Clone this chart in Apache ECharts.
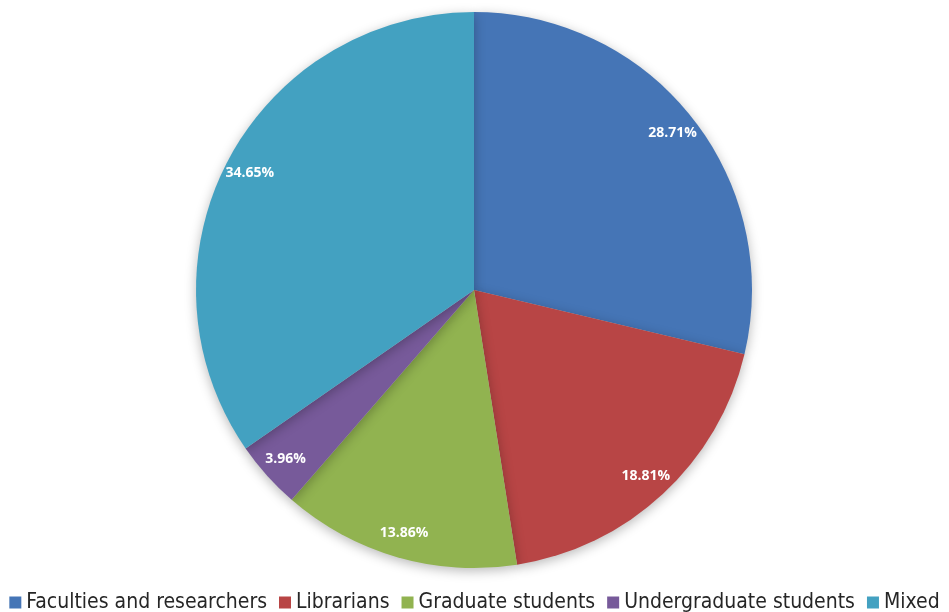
<!DOCTYPE html>
<html>
<head>
<meta charset="utf-8">
<script src="https://cdn.jsdelivr.net/npm/echarts@6/dist/echarts.min.js"></script>
<style>
  html, body { margin: 0; padding: 0; background: #fff; }
  #chart { width: 949px; height: 612px; }
</style>
</head>
<body>
<div id="chart"></div>
<script>
// Share of respondents by group (percent)
const categories = ['Faculties and researchers', 'Librarians', 'Graduate students', 'Undergraduate students', 'Mixed'];
const shares = [28.71, 18.81, 13.86, 3.96, 34.65];
const colors = ['#4575B6', '#B84545', '#91B350', '#775A9A', '#43A1C1'];

const center = [474, 290];
const outerRadius = 278;

const slices = categories.map((name, i) => ({ name: name, value: shares[i] }));

const chart = echarts.init(document.getElementById('chart'), null, { renderer: 'canvas' });
chart.setOption({
  animation: false,
  color: colors,
  legend: {
    top: 587,
    left: 'center',
    icon: 'rect',
    itemWidth: 12,
    itemHeight: 12,
    itemGap: 12,
    textStyle: {
      fontFamily: '"Liberation Sans Narrow", "DejaVu Sans Condensed", sans-serif',
      fontSize: 21,
      color: '#262626'
    },
    data: categories
  },
  series: [
    {
      // the pie itself
      type: 'pie',
      center: center,
      radius: [0, outerRadius],
      startAngle: 90,
      clockwise: true,
      label: { show: false },
      labelLine: { show: false },
      itemStyle: {
        borderWidth: 0,
        shadowBlur: 12,
        shadowColor: 'rgba(0,0,0,0.28)',
        shadowOffsetY: 3
      },
      emphasis: { disabled: true },
      data: slices
    },
    {
      // transparent ring carrying the percentage labels near the rim
      type: 'pie',
      center: center,
      radius: [222, outerRadius],
      startAngle: 90,
      clockwise: true,
      silent: true,
      itemStyle: { color: 'transparent' },
      label: {
        show: true,
        position: 'inside',
        formatter: (p) => p.value.toFixed(2) + '%',
        color: '#fff',
        fontFamily: '"Open Sans", Lato, sans-serif',
        fontWeight: 'bold',
        fontSize: 14
      },
      labelLine: { show: false },
      emphasis: { disabled: true },
      data: shares.map(v => ({ value: v }))
    }
  ]
});
</script>
</body>
</html>
